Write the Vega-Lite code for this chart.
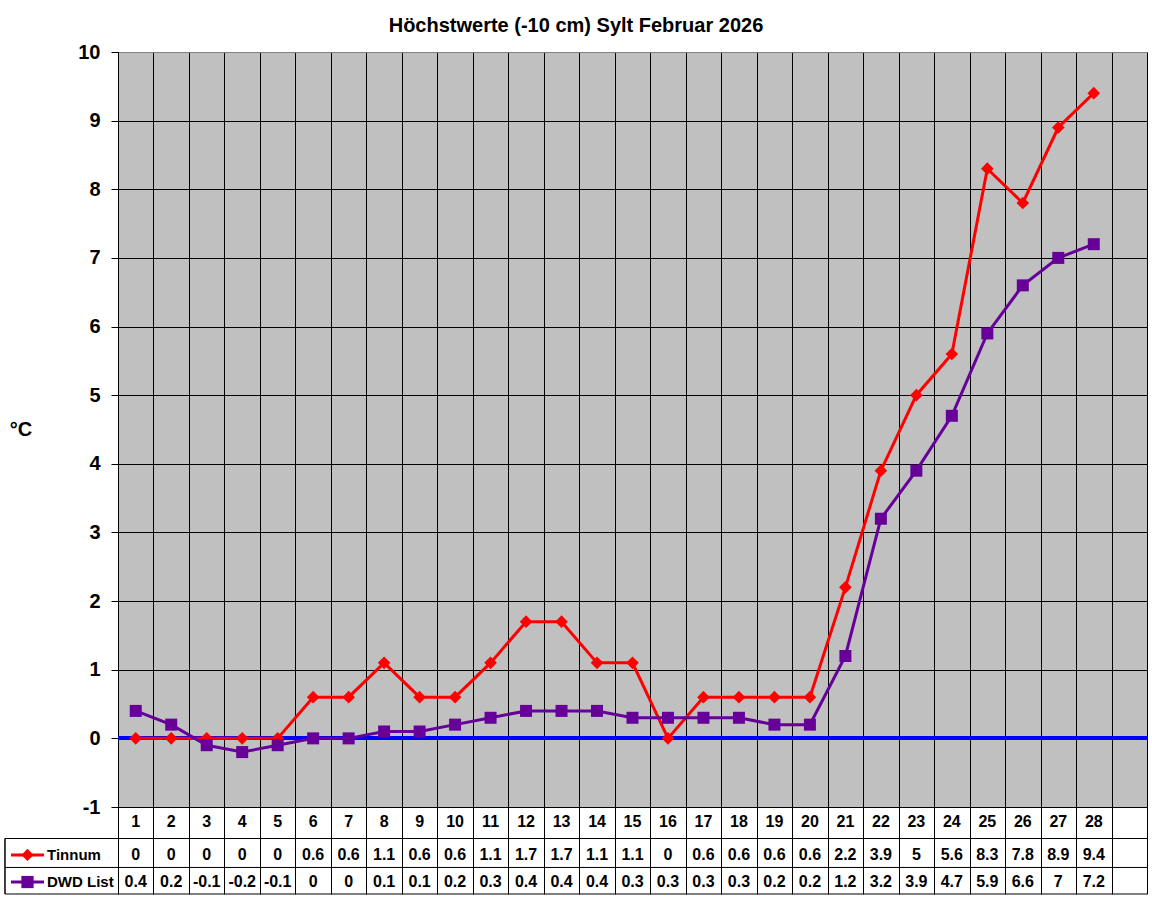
{
  "$schema": "https://vega.github.io/schema/vega-lite/v6.json",
  "autosize": {"type": "none"},
  "padding": {"left": 118, "top": 52, "right": 5, "bottom": 93},
  "width": 1029,
  "height": 755,
  "background": "white",
  "title": {
    "text": "Höchstwerte (-10 cm) Sylt Februar 2026",
    "font": "Liberation Sans",
    "fontSize": 20,
    "fontWeight": "bold",
    "color": "black",
    "anchor": "middle",
    "frame": "group",
    "dx": -56.5,
    "baseline": "alphabetic",
    "offset": -10
  },
  "config": {
    "view": {"fill": "#C0C0C0", "stroke": "#808080", "strokeWidth": 1},
    "axis": {
      "domainColor": "black",
      "tickColor": "black",
      "gridColor": "black",
      "gridOpacity": 1,
      "gridWidth": 1,
      "labelFont": "Liberation Sans",
      "titleFont": "Liberation Sans"
    },
    "axisX": {"labels": false, "title": null, "tickSize": 87, "grid": true, "labelOverlap": false},
    "text": {"font": "Liberation Sans", "fontSize": 16, "fontWeight": "bold", "color": "black"}
  },
  "datasets": {
    "temps": [
      {"day": 1, "Tinnum": 0, "DWD": 0.4},
      {"day": 2, "Tinnum": 0, "DWD": 0.2},
      {"day": 3, "Tinnum": 0, "DWD": -0.1},
      {"day": 4, "Tinnum": 0, "DWD": -0.2},
      {"day": 5, "Tinnum": 0, "DWD": -0.1},
      {"day": 6, "Tinnum": 0.6, "DWD": 0},
      {"day": 7, "Tinnum": 0.6, "DWD": 0},
      {"day": 8, "Tinnum": 1.1, "DWD": 0.1},
      {"day": 9, "Tinnum": 0.6, "DWD": 0.1},
      {"day": 10, "Tinnum": 0.6, "DWD": 0.2},
      {"day": 11, "Tinnum": 1.1, "DWD": 0.3},
      {"day": 12, "Tinnum": 1.7, "DWD": 0.4},
      {"day": 13, "Tinnum": 1.7, "DWD": 0.4},
      {"day": 14, "Tinnum": 1.1, "DWD": 0.4},
      {"day": 15, "Tinnum": 1.1, "DWD": 0.3},
      {"day": 16, "Tinnum": 0, "DWD": 0.3},
      {"day": 17, "Tinnum": 0.6, "DWD": 0.3},
      {"day": 18, "Tinnum": 0.6, "DWD": 0.3},
      {"day": 19, "Tinnum": 0.6, "DWD": 0.2},
      {"day": 20, "Tinnum": 0.6, "DWD": 0.2},
      {"day": 21, "Tinnum": 2.2, "DWD": 1.2},
      {"day": 22, "Tinnum": 3.9, "DWD": 3.2},
      {"day": 23, "Tinnum": 5, "DWD": 3.9},
      {"day": 24, "Tinnum": 5.6, "DWD": 4.7},
      {"day": 25, "Tinnum": 8.3, "DWD": 5.9},
      {"day": 26, "Tinnum": 7.8, "DWD": 6.6},
      {"day": 27, "Tinnum": 8.9, "DWD": 7},
      {"day": 28, "Tinnum": 9.4, "DWD": 7.2}
    ],
    "tableLines": [{"pos": -1.459}, {"pos": -1.881}, {"pos": -2.2675}],
    "series": [{"series": "Tinnum", "row": -1.699}, {"series": "DWD List", "row": -2.093}]
  },
  "data": {"name": "temps"},
  "layer": [
    {
      "mark": {"type": "rule", "color": "#0000FF", "strokeWidth": 3},
      "encoding": {
        "y": {
          "datum": 0,
          "type": "quantitative",
          "scale": {"domain": [-1, 10], "nice": false, "zero": false},
          "axis": {
            "values": [-1, 0, 1, 2, 3, 4, 5, 6, 7, 8, 9, 10],
            "labelExpr": "'' + datum.value",
            "labelFontSize": 20,
            "labelFontWeight": "bold",
            "labelColor": "black",
            "labelPadding": 11,
            "tickSize": 7,
            "grid": true,
            "gridColor": {"condition": {"test": "datum.value === 10", "value": "#808080"}, "value": "black"},
            "title": "°C",
            "titleAngle": 0,
            "titleFontSize": 20,
            "titleFontWeight": "bold",
            "titleColor": "black",
            "titleAlign": "center",
            "titleBaseline": "middle",
            "titleX": -97.5,
            "titleY": 377
          }
        }
      }
    },
    {
      "mark": {"type": "line", "color": "#FF0000", "strokeWidth": 3,
        "point": {"shape": "diamond", "size": 160, "filled": true, "color": "#FF0000", "opacity": 1}},
      "encoding": {
        "x": {
          "field": "day",
          "type": "quantitative",
          "scale": {"domain": [0.5, 29.5], "nice": false, "zero": false},
          "axis": {"values": [0.5, 1.5, 2.5, 3.5, 4.5, 5.5, 6.5, 7.5, 8.5, 9.5, 10.5, 11.5, 12.5, 13.5, 14.5, 15.5, 16.5, 17.5, 18.5, 19.5, 20.5, 21.5, 22.5, 23.5, 24.5, 25.5, 26.5, 27.5, 28.5, 29.5]}
        },
        "y": {"field": "Tinnum", "type": "quantitative"}
      }
    },
    {
      "mark": {"type": "line", "color": "#660099", "strokeWidth": 3,
        "point": {"shape": "square", "size": 144, "filled": true, "color": "#660099", "opacity": 1}},
      "encoding": {
        "x": {"field": "day", "type": "quantitative",
          "axis": {"values": [0.5, 1.5, 2.5, 3.5, 4.5, 5.5, 6.5, 7.5, 8.5, 9.5, 10.5, 11.5, 12.5, 13.5, 14.5, 15.5, 16.5, 17.5, 18.5, 19.5, 20.5, 21.5, 22.5, 23.5, 24.5, 25.5, 26.5, 27.5, 28.5, 29.5]}},
        "y": {"field": "DWD", "type": "quantitative"}
      }
    },
    {
      "mark": {"type": "text"},
      "encoding": {
        "x": {"field": "day", "type": "quantitative",
          "axis": {"values": [0.5, 1.5, 2.5, 3.5, 4.5, 5.5, 6.5, 7.5, 8.5, 9.5, 10.5, 11.5, 12.5, 13.5, 14.5, 15.5, 16.5, 17.5, 18.5, 19.5, 20.5, 21.5, 22.5, 23.5, 24.5, 25.5, 26.5, 27.5, 28.5, 29.5]}},
        "y": {"datum": -1.219},
        "text": {"field": "day", "type": "nominal"}
      }
    },
    {
      "mark": {"type": "text"},
      "encoding": {
        "x": {"field": "day", "type": "quantitative",
          "axis": {"values": [0.5, 1.5, 2.5, 3.5, 4.5, 5.5, 6.5, 7.5, 8.5, 9.5, 10.5, 11.5, 12.5, 13.5, 14.5, 15.5, 16.5, 17.5, 18.5, 19.5, 20.5, 21.5, 22.5, 23.5, 24.5, 25.5, 26.5, 27.5, 28.5, 29.5]}},
        "y": {"datum": -1.699},
        "text": {"field": "Tinnum", "type": "nominal"}
      }
    },
    {
      "mark": {"type": "text"},
      "encoding": {
        "x": {"field": "day", "type": "quantitative",
          "axis": {"values": [0.5, 1.5, 2.5, 3.5, 4.5, 5.5, 6.5, 7.5, 8.5, 9.5, 10.5, 11.5, 12.5, 13.5, 14.5, 15.5, 16.5, 17.5, 18.5, 19.5, 20.5, 21.5, 22.5, 23.5, 24.5, 25.5, 26.5, 27.5, 28.5, 29.5]}},
        "y": {"datum": -2.093},
        "text": {"field": "DWD", "type": "nominal"}
      }
    },
    {
      "data": {"name": "tableLines"},
      "mark": {"type": "rule", "color": "black", "strokeWidth": 1},
      "encoding": {
        "x": {"datum": -2.685, "type": "quantitative",
          "axis": {"values": [0.5, 1.5, 2.5, 3.5, 4.5, 5.5, 6.5, 7.5, 8.5, 9.5, 10.5, 11.5, 12.5, 13.5, 14.5, 15.5, 16.5, 17.5, 18.5, 19.5, 20.5, 21.5, 22.5, 23.5, 24.5, 25.5, 26.5, 27.5, 28.5, 29.5]}},
        "x2": {"datum": 29.5},
        "y": {"field": "pos", "type": "quantitative"}
      }
    },
    {
      "data": {"name": "tableLines"},
      "transform": [{"filter": "datum.pos < -1.5"}],
      "mark": {"type": "rule", "color": "black", "strokeWidth": 1},
      "encoding": {
        "x": {"datum": -2.685, "type": "quantitative",
          "axis": {"values": [0.5, 1.5, 2.5, 3.5, 4.5, 5.5, 6.5, 7.5, 8.5, 9.5, 10.5, 11.5, 12.5, 13.5, 14.5, 15.5, 16.5, 17.5, 18.5, 19.5, 20.5, 21.5, 22.5, 23.5, 24.5, 25.5, 26.5, 27.5, 28.5, 29.5]}},
        "y": {"datum": -1.459},
        "y2": {"datum": -2.2675}
      }
    },
    {
      "data": {"name": "series"},
      "mark": {"type": "rule", "strokeWidth": 3},
      "encoding": {
        "x": {"datum": -2.516, "type": "quantitative",
          "axis": {"values": [0.5, 1.5, 2.5, 3.5, 4.5, 5.5, 6.5, 7.5, 8.5, 9.5, 10.5, 11.5, 12.5, 13.5, 14.5, 15.5, 16.5, 17.5, 18.5, 19.5, 20.5, 21.5, 22.5, 23.5, 24.5, 25.5, 26.5, 27.5, 28.5, 29.5]}},
        "x2": {"datum": -1.586},
        "y": {"field": "row", "type": "quantitative"},
        "color": {"field": "series", "type": "nominal", "scale": {"domain": ["Tinnum", "DWD List"], "range": ["#FF0000", "#660099"]}, "legend": null}
      }
    },
    {
      "data": {"name": "series"},
      "mark": {"type": "point", "filled": true, "opacity": 1, "size": 150},
      "encoding": {
        "x": {"datum": -2.051, "type": "quantitative",
          "axis": {"values": [0.5, 1.5, 2.5, 3.5, 4.5, 5.5, 6.5, 7.5, 8.5, 9.5, 10.5, 11.5, 12.5, 13.5, 14.5, 15.5, 16.5, 17.5, 18.5, 19.5, 20.5, 21.5, 22.5, 23.5, 24.5, 25.5, 26.5, 27.5, 28.5, 29.5]}},
        "y": {"field": "row", "type": "quantitative"},
        "color": {"field": "series", "type": "nominal", "legend": null},
        "shape": {"field": "series", "type": "nominal", "scale": {"domain": ["Tinnum", "DWD List"], "range": ["diamond", "square"]}, "legend": null}
      }
    },
    {
      "data": {"name": "series"},
      "mark": {"type": "text", "align": "left", "fontSize": 15},
      "encoding": {
        "x": {"datum": -1.5, "type": "quantitative",
          "axis": {"values": [0.5, 1.5, 2.5, 3.5, 4.5, 5.5, 6.5, 7.5, 8.5, 9.5, 10.5, 11.5, 12.5, 13.5, 14.5, 15.5, 16.5, 17.5, 18.5, 19.5, 20.5, 21.5, 22.5, 23.5, 24.5, 25.5, 26.5, 27.5, 28.5, 29.5]}},
        "y": {"field": "row", "type": "quantitative"},
        "text": {"field": "series", "type": "nominal"}
      }
    }
  ]
}
